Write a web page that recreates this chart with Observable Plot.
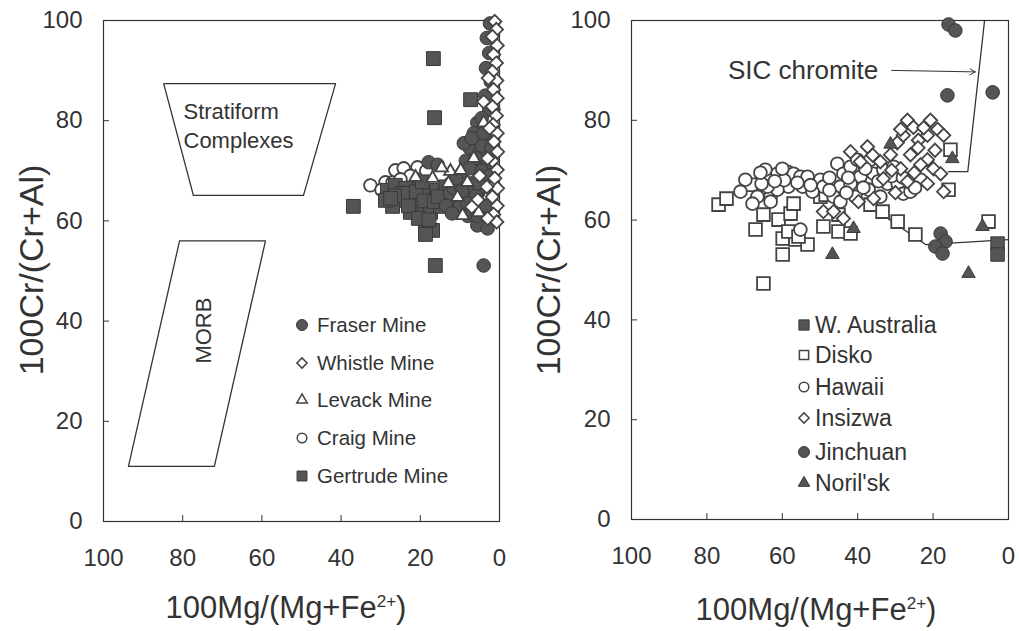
<!DOCTYPE html>
<html><head><meta charset="utf-8">
<script src="https://cdn.jsdelivr.net/npm/d3@7"></script>
<script src="https://cdn.jsdelivr.net/npm/@observablehq/plot@0.6"></script>
<style>
body{margin:0;background:#fff;font-family:"Liberation Sans",Arial,sans-serif;}
#wrap{position:relative;width:1019px;height:631px;overflow:hidden;background:#fff;}
.panel{position:absolute;top:0;}
.lab{position:absolute;color:#333;white-space:nowrap;line-height:1;}
.leg{position:absolute;display:flex;align-items:center;height:30px;color:#333;white-space:nowrap;line-height:1;}
</style></head><body><div id="wrap"></div>
<script>
// ---------- shared axis ticks ----------
const xTicks = [100, 80, 60, 40, 20, 0];
const yTicks = [0, 20, 40, 60, 80, 100];

// ---------- left panel data: [100Mg/(Mg+Fe2+), 100Cr/(Cr+Al)] ----------
const fraser = [[4.0,51.1],[17.9,71.7],[15.6,71.2],[5.6,79.6],[5.6,59.1],[3.0,58.5],
  [2.4,99.4],[3.2,96.5],[2.6,93.5],[3.4,90.5],[2.2,87.8],[3.6,85.0],[2.6,82.2],[4.5,80.5],
  [6.5,77.5],[3.5,76.5],[7.5,74.5],[5.0,73.5],[8.5,72.0],[3.0,71.5],[6.0,70.5],[9.5,69.5],
  [4.0,68.5],[7.0,67.5],[10.5,67.0],[5.0,66.0],[8.5,65.0],[3.0,64.5],[12.5,65.5],[6.5,63.5],
  [10.0,63.0],[4.0,62.0],[8.0,61.0],[13.5,63.0],[2.0,61.5],[11.5,66.5],[9.0,75.5],[6.0,72.5],[4.5,75.0],
  [7.5,70.5],[4.5,70.0],[9.5,66.0],[6.0,65.0],[11.0,68.5],[2.5,69.0],[5.5,67.5],[8.0,63.5],
  [12.0,61.5],[3.5,63.0],[7.0,76.5],[4.0,77.5],[2.0,74.5],[5.5,61.0]];
const whistle = [[1.2,99.8],[0.8,98.2],[1.8,96.8],[0.6,95.0],[1.5,93.2],[0.8,91.5],[1.8,89.8],[0.7,88.0],
  [1.5,86.2],[0.6,84.5],[1.8,82.8],[0.8,81.0],[1.6,79.2],[0.6,77.5],[1.4,75.8],[0.5,73.8],[1.8,72.0],
  [0.6,70.2],[1.2,68.5],[0.5,66.5],[1.8,64.8],[0.6,63.0],[1.5,61.3],[0.7,59.8],
  [3.0,72.5],[5.0,69.0],[3.2,66.8],[5.5,64.2],[3.0,60.5],[2.5,78.5],[7.0,62.8],[4.0,83.8],[2.8,88.5]];
const levack = [[16.9,68.5],[12.4,69.9],[9.8,70.1],[12.9,67.5],[8.1,67.7],[10.6,64.7],[9.3,61.1],
  [5.3,61.7],[4.0,79.6],[1.5,83.0],[21.2,68.7],[14.6,70.6],[6.5,72.5],[3.0,65.0]];
const craig = [[32.6,67.1],[28.8,67.7],[27.0,67.7],[26.3,70.1],[24.2,70.5],[20.7,70.7],[29.8,66.2],
  [22.5,69.0],[18.5,70.0],[25.0,68.3]];
const gertrude = [[16.7,92.4],[7.3,84.2],[16.4,80.6],[36.9,62.9],[16.2,51.1],
  [28.3,66.1],[26.3,67.1],[23.7,66.5],[25.0,64.1],[27.0,62.9],[22.0,64.5],[20.0,66.5],[17.9,65.1],
  [15.9,66.1],[13.9,65.1],[20.0,62.5],[17.4,61.7],[14.9,62.9],[18.7,59.7],[16.9,58.1],[18.7,57.3],
  [22.5,61.7],[28.8,64.1],[12.4,64.1],[11.9,67.1],
  [24.5,65.5],[21.0,65.8],[19.0,64.0],[16.5,63.8],[13.5,66.8],[26.5,65.0],[23.0,63.0],[20.5,60.5],
  [17.8,60.2],[15.5,64.8],[10.5,65.5],[19.5,67.8],[27.5,64.5]];
const stratiform = [[84.8,87.4],[41.4,87.4],[49.5,65.1],[77.3,65.1],[84.8,87.4]];
const morb = [[80.8,56.0],[59.1,56.0],[72.0,11.0],[93.7,11.0],[80.8,56.0]];
const stratNotes = [{x:79.8, y:81.8, t:"Stratiform"}, {x:79.8, y:76.0, t:"Complexes"}];
const morbNote = [{x:74.7, y:38.1, t:"MORB"}];
const leftSeries = ["Fraser Mine","Whistle Mine","Levack Mine","Craig Mine","Gertrude Mine"];

// ---------- right panel data ----------
const wAustralia = [[2.9,55.3],[2.9,53.1]];
const disko = [[76.9,63.1],[74.8,64.3],[68.4,67.1],[67.1,58.1],[65.0,61.1],[61.0,60.1],[57.8,61.3],
  [57.0,63.3],[59.9,56.3],[59.9,53.1],[65.0,47.3],[56.5,56.1],[53.3,55.1],[58.4,57.7],[49.9,64.7],
  [48.5,65.1],[49.1,58.7],[45.1,61.1],[55.7,56.7],[36.6,63.1],[33.4,61.7],[29.4,59.7],[24.7,57.1],
  [15.9,66.1],[15.4,74.1],[5.3,59.7],[45.1,57.7],[41.9,57.3]];
const hawaii = [[63.1,68.7],[61.3,69.3],[58.6,69.7],[57.0,69.3],[55.2,68.7],[60.5,67.3],[58.4,66.7],
  [63.1,64.7],[61.3,66.1],[66.6,64.7],[63.9,66.7],[54.6,66.7],[53.3,68.7],[49.9,68.1],[49.1,66.7],
  [45.4,71.3],[43.8,69.3],[44.6,66.7],[41.9,70.7],[40.1,72.1],[39.3,68.7],[36.6,72.1],[35.8,69.3],
  [33.2,70.1],[32.1,67.3],[29.4,67.3],[27.9,65.3],[30.5,70.7],[41.9,67.3],[46.4,64.7],[44.6,63.7],
  [55.2,58.1],[37.1,66.1],[67.9,63.3],[63.1,63.7],[64.5,70.1],[69.8,68.1],[71.1,65.7],[52.0,65.7],
  [40.6,64.7],[34.0,64.7],[26.0,65.7],[23.3,68.1],
  [59.5,68.0],[56.0,67.5],[62.0,67.8],[65.5,67.3],[52.5,67.0],[47.5,68.5],[42.5,68.5],[38.0,70.3],
  [34.5,67.8],[31.0,68.8],[28.0,68.5],[24.8,66.5],[47.5,66.0],[43.0,65.5],[38.5,66.5],[65.8,69.5],[60.0,70.3]];
const insizwa = [[26.8,80.0],[25.2,78.6],[20.7,80.0],[18.8,78.2],[17.2,77.0],[21.5,77.0],[27.9,77.0],
  [23.9,76.0],[28.6,78.2],[37.4,74.7],[31.3,73.1],[26.0,73.1],[21.5,72.1],[34.0,71.7],[28.6,70.3],
  [23.3,71.1],[19.9,70.3],[18.0,69.3],[33.2,68.3],[26.8,67.7],[21.5,67.3],[17.2,65.7],[39.8,63.7],
  [35.8,64.3],[49.1,61.7],[46.4,61.7],[43.8,60.3],[39.3,71.7],[41.9,73.7],
  [24.0,74.5],[29.5,75.5],[22.5,78.5],[19.5,74.0],[31.0,70.0],[25.0,69.5],[36.0,73.0],[30.0,65.5]];
const jinchuan = [[15.9,99.2],[14.1,98.0],[16.2,85.0],[4.2,85.6],[18.0,57.3],[16.7,55.7],[19.4,54.7],[17.5,53.3]];
const norilsk = [[46.7,53.1],[10.6,49.3],[6.9,58.7],[41.1,58.3],[14.9,72.3],[31.3,75.2]];
const sicField = [[6.35,100],[10.8,69.7],[16.0,69.7]];
const trendLine = [[41.0,65.0],[22.0,55.1],[0,56.1]];
const sicLabel = [{x:54.5, y:90.0, t:"SIC chromite"}];
const sicArrow = [{x1:31.0, y1:90.0, x2:8.8, y2:89.7}];
const rightSeries = ["W. Australia","Disko","Hawaii","Insizwa","Jinchuan","Noril'sk"];

// ---------- styles ----------
const INK = "#333", DARK = "#555";
const X = d => d[0], Y = d => d[1];
const filled = (data, symbol, r) => Plot.dot(data, {x: X, y: Y, symbol, r, fill: DARK, stroke: "#3a3a3a", strokeWidth: 1});
const open = (data, symbol, r) => Plot.dot(data, {x: X, y: Y, symbol, r, fill: "white", stroke: "#444", strokeWidth: 1.8});

function axes(padY) {
  return [
    Plot.frame({stroke: INK, strokeWidth: 1.2}),
    Plot.axisX(xTicks.slice(1, -1), {tickSize: -6, tickFormat: () => "", label: null}),
    Plot.axisY(yTicks.slice(1, -1), {tickSize: -6, tickFormat: () => "", label: null}),
    Plot.axisX(xTicks, {tickSize: 0, tickPadding: 27, fontSize: 24, label: null}),
    Plot.axisY(yTicks, {tickSize: 0, tickPadding: padY, fontSize: 24, label: null})
  ];
}
const style = {fontFamily: "'Liberation Sans', Arial, sans-serif", color: INK, background: "transparent", overflow: "visible"};

const left = Plot.plot({
  width: 515, height: 631, marginLeft: 103, marginRight: 16, marginTop: 20, marginBottom: 110,
  x: {domain: [100, 0], label: null}, y: {domain: [0, 100], label: null}, style,
  marks: [
    ...axes(21),
    Plot.line(stratiform, {x: X, y: Y, stroke: INK, strokeWidth: 1.3}),
    Plot.line(morb, {x: X, y: Y, stroke: INK, strokeWidth: 1.3}),
    Plot.text(stratNotes, {x: "x", y: "y", text: "t", textAnchor: "start", fontSize: 22, fill: INK}),
    Plot.text(morbNote, {x: "x", y: "y", text: "t", rotate: -90, fontSize: 22, fill: INK}),
    open(craig, "circle", 6.3),
    filled(gertrude, "square", 7.8),
    filled(fraser, "circle", 6.8),
    open(levack, "triangle", 4.7),
    open(whistle, "diamond2", 6.0)
  ]
});

const right = Plot.plot({
  width: 504, height: 631, marginLeft: 116, marginRight: 11, marginTop: 20, marginBottom: 112,
  x: {domain: [100, 0], label: null}, y: {domain: [0, 100], label: null}, style,
  marks: [
    ...axes(21),
    Plot.line(sicField, {x: X, y: Y, stroke: INK, strokeWidth: 1.3}),
    Plot.line(trendLine, {x: X, y: Y, stroke: INK, strokeWidth: 1.3}),
    Plot.text(sicLabel, {x: "x", y: "y", text: "t", fontSize: 26, fill: INK}),
    Plot.arrow(sicArrow, {x1: "x1", y1: "y1", x2: "x2", y2: "y2", stroke: INK, strokeWidth: 1, headLength: 9}),
    open(disko, "square", 7.2),
    open(hawaii, "circle", 6.4),
    open(insizwa, "diamond2", 6.0),
    filled(wAustralia, "square", 7.6),
    filled(jinchuan, "circle", 6.8),
    filled(norilsk, "triangle", 5.0)
  ]
});

const wrap = document.getElementById("wrap");
left.classList.add("panel"); left.style.left = "0px";
right.classList.add("panel"); right.style.left = "515px";
wrap.append(left, right);

// ---------- axis titles (HTML so the superscript is real) ----------
function label(html, x, y, size, rotate) {
  const d = document.createElement("div");
  d.className = "lab";
  d.innerHTML = html;
  d.style.left = x + "px"; d.style.top = y + "px"; d.style.fontSize = size + "px";
  d.style.transform = rotate ? "translate(-50%,-50%) rotate(-90deg)" : "translateX(-50%)";
  wrap.append(d);
}
const xTitle = '100Mg/(Mg+Fe<span style="font-size:0.55em;position:relative;top:-0.62em">2+</span>)';
const yTitle = '100Cr/(Cr+Al)';
label(xTitle, 286, 592, 31, false);
label(xTitle, 816, 594, 31, false);
label(yTitle, 31, 270, 34, true);
label(yTitle, 548, 270, 34, true);

// ---------- legends ----------
const symType = {circle: d3.symbolCircle, diamond2: d3.symbolDiamond2, triangle: d3.symbolTriangle, square: d3.symbolSquare};
function legend(names, kinds, cx, tx, rows, fontSize) {
  names.forEach((name, i) => {
    const [sym, isFilled, r] = kinds[i];
    const row = document.createElement("div");
    row.className = "leg";
    row.style.left = (cx - 8) + "px"; row.style.top = (rows[i] - 15) + "px"; row.style.fontSize = fontSize + "px";
    const path = d3.symbol(symType[sym], Math.PI * r * r)();
    row.innerHTML = `<svg width="16" height="16" style="margin-right:${tx - cx - 8}px;overflow:visible"><path transform="translate(8,8)" d="${path}" fill="${isFilled ? DARK : "white"}" stroke="${isFilled ? "#3a3a3a" : "#444"}" stroke-width="${isFilled ? 1 : 1.5}"/></svg><span>${name}</span>`;
    wrap.append(row);
  });
}
legend(leftSeries,
  [["circle", true, 5.5], ["diamond2", false, 4.6], ["triangle", false, 3.9], ["circle", false, 4.8], ["square", true, 5.6]],
  302, 317, [325, 363, 400, 438, 476], 20.5);
legend(rightSeries,
  [["square", true, 5.8], ["square", false, 5.2], ["circle", false, 4.8], ["diamond2", false, 4.6], ["circle", true, 5.5], ["triangle", true, 4.3]],
  804, 815, [325, 355, 387, 418, 452, 483], 23);
</script>
</body></html>
